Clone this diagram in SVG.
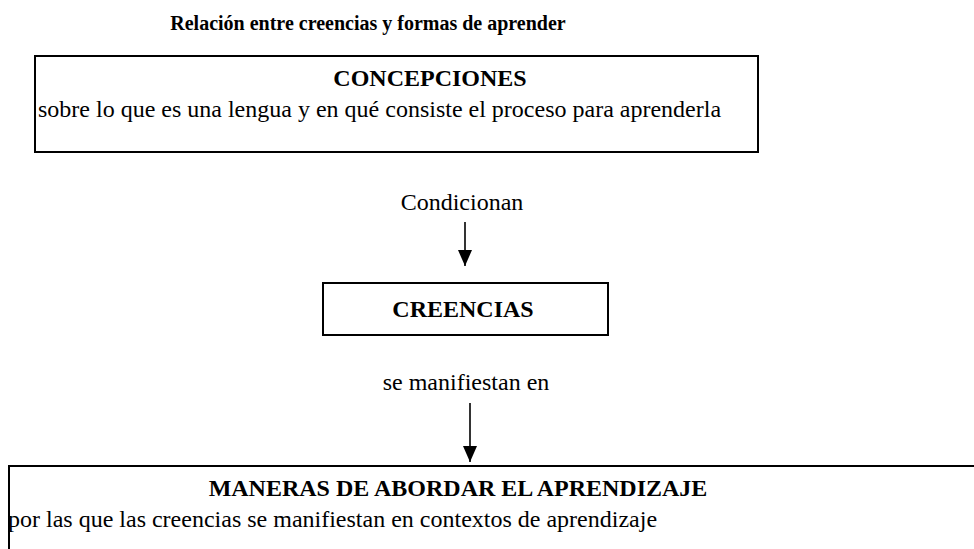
<svg xmlns="http://www.w3.org/2000/svg" width="974" height="549" viewBox="0 0 974 549">
<style>
text{font-family:"Liberation Serif","Times New Roman",serif;fill:#000}
.b{font-weight:bold}
.t{font-size:20px}
.h{font-size:24px}
.n{font-size:24px}
.box{fill:#fff;stroke:#000;stroke-width:2}
.c{stroke:#000;stroke-width:1.6;fill:none}
</style>
<defs>
<marker id="ah" viewBox="0 0 16 14" refX="16" refY="7" markerWidth="16" markerHeight="14" markerUnits="userSpaceOnUse" orient="auto">
<path d="M0,0 L16,7 L0,14 z" fill="#000"/>
</marker>
</defs>
<rect width="974" height="549" fill="#fff"/>
<text class="b t" x="368" y="30" text-anchor="middle">Relación entre creencias y formas de aprender</text>
<g id="concepciones">
<rect class="box" x="35" y="56" width="723" height="96"/>
<text class="b h" x="430" y="86" text-anchor="middle">CONCEPCIONES</text>
<text class="n" x="38" y="117">sobre lo que es una lengua y en qué consiste el proceso para aprenderla</text>
</g>
<g id="creencias">
<rect class="box" x="323" y="283" width="285" height="52"/>
<text class="b h" x="463" y="317" text-anchor="middle">CREENCIAS</text>
</g>
<g id="maneras">
<rect class="box" x="9" y="466" width="1000" height="120"/>
<text class="b h" x="458" y="496" text-anchor="middle">MANERAS DE ABORDAR EL APRENDIZAJE</text>
<text class="n" x="8" y="527">por las que las creencias se manifiestan en contextos de aprendizaje</text>
</g>
<g id="connectors">
<line class="c" x1="465" y1="222" x2="465" y2="266" marker-end="url(#ah)"/>
<text class="n" x="462" y="210" text-anchor="middle">Condicionan</text>
<line class="c" x1="470" y1="403" x2="470" y2="462" marker-end="url(#ah)"/>
<text class="n" x="466" y="390" text-anchor="middle">se manifiestan en</text>
</g>
</svg>
